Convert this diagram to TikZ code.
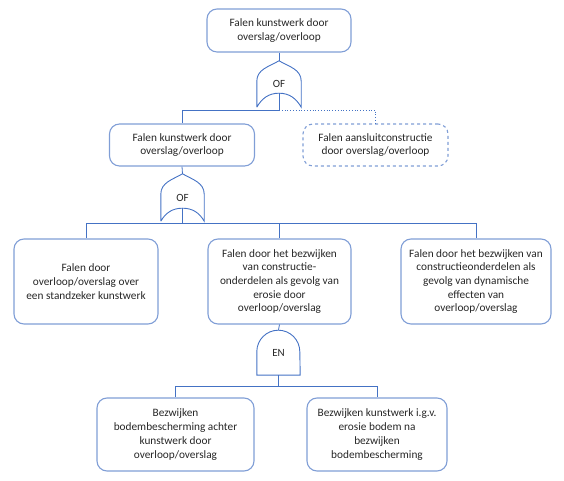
\documentclass[tikz,border=0pt]{standalone}
\usepackage{fontspec}
\setmainfont{Carlito}
\usetikzlibrary{calc}
\definecolor{gateblue}{RGB}{68,114,196}
\definecolor{boxblue}{RGB}{128,158,214}
\definecolor{txtgray}{RGB}{38,38,38}

\begin{document}
\begin{tikzpicture}[x=1pt, y=1pt,
        box/.style={draw=boxblue, line width=1.1pt, rounded corners=10pt, align=center,
            inner sep=2pt, text=txtgray, font=\fontsize{11.3}{13.7}\selectfont},
        dashbox/.style={box, dashed},
        gate/.style={inner sep=0pt, text=txtgray, font=\fontsize{11}{12}\selectfont},
        gateline/.style={draw=gateblue, line width=0.9pt},
        conn/.style={draw=gateblue, line width=0.8pt}]
        \useasboundingbox (0,0) rectangle (564,481);

        % events
        \node[box, minimum width=144, minimum height=43] (top) at (279,450.5) {Falen kunstwerk door\\overslag/overloop};
        \node[box, minimum width=145, minimum height=42] (kw) at (182,336) {Falen kunstwerk door\\overslag/overloop};
        \node[dashbox, minimum width=145, minimum height=42] (aansl) at (375.5,336) {Falen aansluitconstructie\\door overslag/overloop};
        \node[box, minimum width=144, minimum height=85] (stand) at (86,199.5) {Falen door\\overloop/overslag over\\een standzeker kunstwerk};
        \node[box, minimum width=143, minimum height=85] (eros) at (279.5,199.5) {Falen door het bezwijken\\van constructie-\\onderdelen als gevolg van\\erosie door\\overloop/overslag};
        \node[box, minimum width=150, minimum height=85] (dyn) at (476,199.5) {Falen door het bezwijken van\\constructieonderdelen als\\gevolg van dynamische\\effecten van\\overloop/overslag};
        \node[box, minimum width=157, minimum height=73] (bodem) at (175.5,46.5) {Bezwijken\\bodembescherming achter\\kunstwerk door\\overloop/overslag};
        \node[box, minimum width=140, minimum height=73] (igv) at (377,46.5) {Bezwijken kunstwerk i.g.v.\\erosie bodem na\\bezwijken\\bodembescherming};

        % gates
        \node[gate, minimum width=44, minimum height=46] (of1) at (279,397) {OF};
        \node[gate, minimum width=43, minimum height=47] (of2) at (182.5,283.5) {OF};
        \node[gate, minimum width=43, minimum height=45] (en) at (278.5,128.5) {EN};

        \draw[gateline] (of1.south west) -- ++(0,26) to[out=90,in=210] (of1.north)
            to[out=-30,in=90] ($(of1.south east)+(0,26)$) -- (of1.south east)
            to[out=120,in=0] ($(of1.south)+(0,14)$) to[out=180,in=60] (of1.south west);
        \draw[gateline] (of2.south west) -- ++(0,27) to[out=90,in=210] (of2.north)
            to[out=-30,in=90] ($(of2.south east)+(0,27)$) -- (of2.south east)
            to[out=120,in=0] ($(of2.south)+(0,13)$) to[out=180,in=60] (of2.south west);
        \draw[gateline] (en.south west) -- ++(0,23.5) arc (180:0:21.5) -- (en.south east) -- cycle;

        \coordinate (of1in) at ($(of1.south)+(0,14)$);
        \coordinate (of2in) at ($(of2.south)+(0,13)$);
        \coordinate (j1) at ($(of1.south)+(0,-3)$);
        \coordinate (j2) at ($(of2.south)+(0,-2)$);
        \coordinate (j3) at ($(en.south)+(0,-11)$);

        % connectors
        \draw[conn] (top.south) -- (of1.north);
        \draw[conn] (of1in) -- (j1) -| (kw.north);
        \draw[conn, dotted] (j1) -| (aansl.north);
        \draw[conn] (kw.south) -- (of2.north);
        \draw[conn] (of2in) -- (j2) -| (stand.north);
        \draw[conn] (j2) -| (dyn.north);
        \draw[conn] (j2) -| (eros.north);
        \draw[conn] (eros.south) -- (en.north);
        \draw[conn] (en.south) -- (j3) -| (bodem.north);
        \draw[conn] (j3) -| (igv.north);
\end{tikzpicture}
\end{document}
